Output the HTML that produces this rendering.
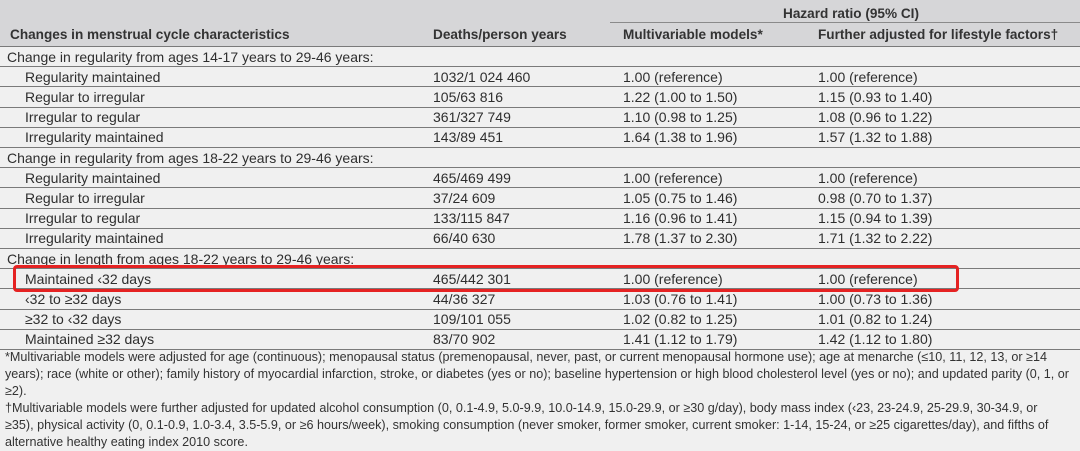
<!DOCTYPE html>
<html><head><meta charset="utf-8"><style>
body{margin:0;width:1080px;height:451px;overflow:hidden;background:#f0f0f0;font-family:"Liberation Sans",sans-serif;color:#2e2e2e;position:relative}
.hdr{position:absolute;left:0;top:0;width:1080px;height:46px;background:#d6d6d8}
.t{position:absolute;white-space:nowrap;font-size:14px;line-height:20px}
.b{font-weight:bold;color:#333;font-size:13.6px}
.ln{position:absolute;left:0;width:1080px;height:1px;background:#7a7a7a}
.fn{position:absolute;left:5px;white-space:nowrap;font-size:12.6px;line-height:17px;color:#333}
.box{position:absolute;left:13px;top:265px;width:940px;height:21px;border:3px solid #e52222;border-radius:4px}
</style></head><body>
<div class="hdr"></div>
<div class="t b" style="left:622px;top:4px;width:458px;text-align:center">Hazard ratio (95% CI)</div>
<div style="position:absolute;left:610px;top:22px;width:470px;height:1px;background:#8a8a8a"></div>
<div class="t b" style="left:10px;top:25px">Changes in menstrual cycle characteristics</div>
<div class="t b" style="left:433px;top:25px">Deaths/person years</div>
<div class="t b" style="left:623px;top:25px">Multivariable models*</div>
<div class="t b" style="left:818px;top:25px">Further adjusted for lifestyle factors†</div>
<div id="rows"></div>
<div class="box"></div>
<div class="fn" style="top:349px">*Multivariable models were adjusted for age (continuous); menopausal status (premenopausal, never, past, or current menopausal hormone use); age at menarche (≤10, 11, 12, 13, or ≥14</div>
<div class="fn" style="top:366px">years); race (white or other); family history of myocardial infarction, stroke, or diabetes (yes or no); baseline hypertension or high blood cholesterol level (yes or no); and updated parity (0, 1, or</div>
<div class="fn" style="top:383px">≥2).</div>
<div class="fn" style="top:400px">†Multivariable models were further adjusted for updated alcohol consumption (0, 0.1-4.9, 5.0-9.9, 10.0-14.9, 15.0-29.9, or ≥30 g/day), body mass index (‹23, 23-24.9, 25-29.9, 30-34.9, or</div>
<div class="fn" style="top:417px">≥35), physical activity (0, 0.1-0.9, 1.0-3.4, 3.5-5.9, or ≥6 hours/week), smoking consumption (never smoker, former smoker, current smoker: 1-14, 15-24, or ≥25 cigarettes/day), and fifths of</div>
<div class="fn" style="top:434px">alternative healthy eating index 2010 score.</div>
<script>
const labels=["Change in regularity from ages 14-17 years to 29-46 years:","Regularity maintained","Regular to irregular","Irregular to regular","Irregularity maintained","Change in regularity from ages 18-22 years to 29-46 years:","Regularity maintained","Regular to irregular","Irregular to regular","Irregularity maintained","Change in length from ages 18-22 years to 29-46 years:","Maintained ‹32 days","‹32 to ≥32 days","≥32 to ‹32 days","Maintained ≥32 days"];
const deaths=["","1032/1 024 460","105/63 816","361/327 749","143/89 451","","465/469 499","37/24 609","133/115 847","66/40 630","","465/442 301","44/36 327","109/101 055","83/70 902"];
const multi=["","1.00 (reference)","1.22 (1.00 to 1.50)","1.10 (0.98 to 1.25)","1.64 (1.38 to 1.96)","","1.00 (reference)","1.05 (0.75 to 1.46)","1.16 (0.96 to 1.41)","1.78 (1.37 to 2.30)","","1.00 (reference)","1.03 (0.76 to 1.41)","1.02 (0.82 to 1.25)","1.41 (1.12 to 1.79)"];
const life=["","1.00 (reference)","1.15 (0.93 to 1.40)","1.08 (0.96 to 1.22)","1.57 (1.32 to 1.88)","","1.00 (reference)","0.98 (0.70 to 1.37)","1.15 (0.94 to 1.39)","1.71 (1.32 to 2.22)","","1.00 (reference)","1.00 (0.73 to 1.36)","1.01 (0.82 to 1.24)","1.42 (1.12 to 1.80)"];
const R=document.getElementById('rows');
const pitch=20.2,top0=46;
for(let i=0;i<labels.length;i++){
  const y=top0+i*pitch;
  const ln=document.createElement('div');ln.className='ln';ln.style.top=Math.round(y)+'px';
  
  
  R.appendChild(ln);
  const cat=deaths[i]==="";
  const cells=[[cat?7:25,labels[i]],[433,deaths[i]],[623,multi[i]],[818,life[i]]];
  cells.forEach((c,j)=>{
    if(!c[1])return;
    const d=document.createElement('div');d.className='t';
    d.style.left=c[0]+'px';d.style.top=(y+0.5)+'px';d.textContent=c[1];
    
    
    R.appendChild(d);
  });
}
const ln=document.createElement('div');ln.className='ln';ln.style.top=Math.round(top0+labels.length*pitch)+'px';


R.appendChild(ln);
</script>
</body></html>
